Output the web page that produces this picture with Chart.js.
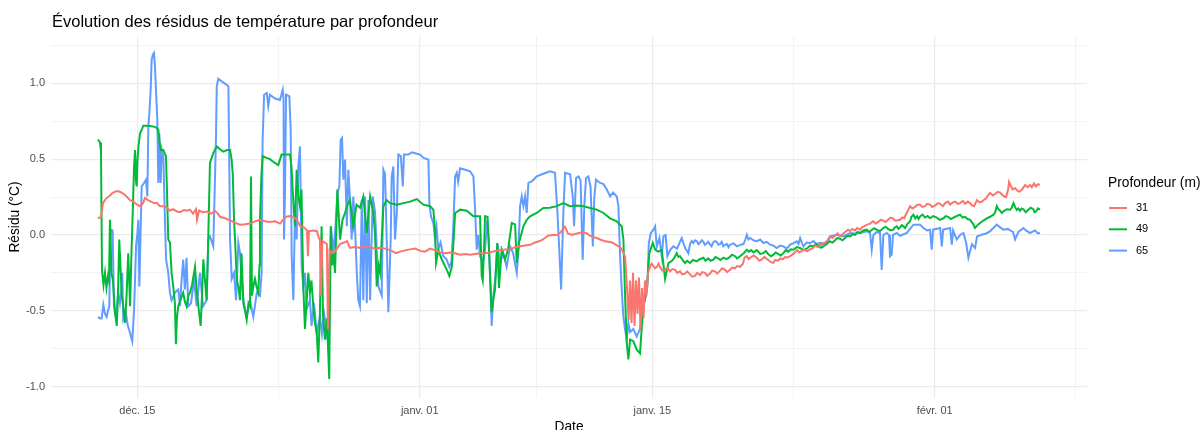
<!DOCTYPE html>
<html lang="fr">
<head>
<meta charset="utf-8">
<title>Résidus de température</title>
<script src="https://cdn.jsdelivr.net/npm/chart.js@4.4.1/dist/chart.umd.min.js"></script>
<style>
  html, body { margin: 0; padding: 0; background: #fff; }
  #wrap { width: 1200px; height: 430px; }
</style>
</head>
<body>
<div id="wrap"><canvas id="residusChart" width="1200" height="430"></canvas></div>
<script>
// jours depuis le 1er janvier 00:00, résidu en °C
const serie31 = [[-19.37,0.11],[-19.19,0.12],[-19.07,0.21],[-18.89,0.24],[-18.65,0.26],[-18.47,0.28],[-18.23,0.29],[-18.05,0.285],[-17.81,0.27],[-17.62,0.25],[-17.44,0.23],[-17.26,0.22],[-17.02,0.20],[-16.84,0.19],[-16.66,0.21],[-16.54,0.245],[-16.36,0.23],[-16.18,0.22],[-16.00,0.21],[-15.82,0.21],[-15.64,0.19],[-15.46,0.19],[-15.22,0.18],[-15.04,0.16],[-14.86,0.17],[-14.62,0.155],[-14.43,0.15],[-14.19,0.165],[-14.01,0.16],[-13.83,0.167],[-13.65,0.14],[-13.47,0.17],[-13.41,0.10],[-13.29,0.16],[-13.05,0.15],[-12.81,0.155],[-12.57,0.14],[-12.33,0.16],[-12.15,0.14],[-12.03,0.12],[-11.72,0.11],[-11.42,0.096],[-11.12,0.08],[-10.82,0.068],[-10.52,0.07],[-10.22,0.075],[-9.92,0.09],[-9.62,0.10],[-9.32,0.09],[-9.02,0.085],[-8.71,0.09],[-8.41,0.075],[-8.23,0.10],[-8.05,0.12],[-7.81,0.125],[-7.63,0.12],[-7.39,0.10],[-7.21,0.06],[-6.97,0.05],[-6.79,0.03],[-6.73,-0.14],[-6.67,0.025],[-6.43,0.03],[-6.19,0.025],[-6.07,-0.02],[-6.01,-0.03],[-5.95,-0.40],[-5.86,-0.04],[-5.71,-0.05],[-5.59,-0.06],[-5.53,-0.62],[-5.43,-0.10],[-5.28,-0.12],[-5.04,-0.10],[-4.80,-0.06],[-4.56,-0.05],[-4.38,-0.04],[-4.20,-0.085],[-3.90,-0.08],[-3.60,-0.085],[-3.30,-0.075],[-2.99,-0.08],[-2.69,-0.09],[-2.39,-0.085],[-2.09,-0.09],[-1.79,-0.10],[-1.43,-0.12],[-1.19,-0.11],[-0.83,-0.10],[-0.59,-0.095],[-0.28,-0.09],[0.02,-0.105],[0.32,-0.11],[0.62,-0.09],[0.92,-0.10],[1.22,-0.115],[1.52,-0.12],[1.82,-0.115],[2.13,-0.12],[2.43,-0.13],[2.73,-0.125],[3.03,-0.13],[3.33,-0.125],[3.63,-0.12],[3.93,-0.12],[4.23,-0.115],[4.53,-0.105],[4.83,-0.10],[5.13,-0.095],[5.44,-0.095],[5.74,-0.08],[6.04,-0.075],[6.34,-0.07],[6.64,-0.065],[6.94,-0.05],[7.24,-0.04],[7.54,-0.02],[7.72,-0.005],[7.96,0.0],[8.26,0.0],[8.50,0.02],[8.74,0.055],[8.92,0.01],[9.16,0.0],[9.46,0.01],[9.82,0.02],[10.06,0.01],[10.24,-0.005],[10.48,-0.015],[10.66,-0.02],[10.86,-0.03],[11.10,-0.04],[11.34,-0.045],[11.58,-0.05],[11.82,-0.065],[12.06,-0.08],[12.18,-0.10],[12.36,-0.14],[12.48,-0.35],[12.57,-0.56],[12.66,-0.30],[12.75,-0.58],[12.84,-0.25],[12.93,-0.60],[13.02,-0.30],[13.11,-0.52],[13.20,-0.28],[13.29,-0.62],[13.38,-0.35],[13.47,-0.55],[13.56,-0.30],[13.65,-0.40],[13.74,-0.25],[13.86,-0.21],[13.95,-0.19],[14.04,-0.20],[14.16,-0.22],[14.28,-0.21],[14.37,-0.19],[14.46,-0.21],[14.6,-0.235],[14.76,-0.23],[14.9,-0.215],[15.07,-0.24],[15.2,-0.225],[15.37,-0.23],[15.5,-0.25],[15.67,-0.24],[15.8,-0.26],[15.97,-0.255],[16.1,-0.24],[16.27,-0.26],[16.4,-0.275],[16.57,-0.27],[16.7,-0.25],[16.88,-0.265],[17.0,-0.245],[17.18,-0.25],[17.3,-0.27],[17.48,-0.255],[17.6,-0.235],[17.78,-0.24],[17.9,-0.255],[18.08,-0.235],[18.2,-0.22],[18.38,-0.23],[18.5,-0.245],[18.68,-0.23],[18.8,-0.215],[18.98,-0.22],[19.1,-0.205],[19.28,-0.21],[19.46,-0.19],[19.55,-0.15],[19.69,-0.14],[19.8,-0.16],[19.89,-0.15],[20.1,-0.135],[20.29,-0.15],[20.45,-0.17],[20.61,-0.16],[20.75,-0.145],[20.91,-0.16],[21.1,-0.175],[21.27,-0.185],[21.4,-0.165],[21.57,-0.17],[21.7,-0.155],[21.87,-0.16],[22.0,-0.145],[22.11,-0.15],[22.3,-0.14],[22.54,-0.12],[22.72,-0.10],[22.85,-0.115],[23.02,-0.105],[23.15,-0.095],[23.32,-0.108],[23.5,-0.095],[23.68,-0.086],[23.8,-0.07],[23.98,-0.08],[24.1,-0.065],[24.28,-0.064],[24.4,-0.05],[24.52,-0.04],[24.7,-0.01],[24.85,-0.02],[25.0,-0.005],[25.15,0.01],[25.31,-0.01],[25.45,0.005],[25.61,0.02],[25.79,0.035],[25.9,0.025],[26.03,0.04],[26.2,0.03],[26.33,0.046],[26.5,0.035],[26.63,0.05],[26.8,0.06],[26.93,0.068],[27.11,0.075],[27.29,0.09],[27.45,0.075],[27.59,0.085],[27.75,0.1],[27.89,0.096],[28.05,0.085],[28.19,0.10],[28.35,0.115],[28.49,0.11],[28.6,0.095],[28.73,0.095],[28.92,0.10],[29.05,0.115],[29.16,0.11],[29.34,0.15],[29.52,0.19],[29.65,0.175],[29.82,0.185],[29.95,0.2],[30.12,0.20],[30.25,0.185],[30.42,0.19],[30.55,0.205],[30.72,0.20],[30.85,0.185],[31.03,0.195],[31.2,0.21],[31.33,0.205],[31.5,0.19],[31.63,0.21],[31.8,0.22],[31.93,0.20],[32.1,0.215],[32.23,0.22],[32.4,0.205],[32.53,0.21],[32.7,0.225],[32.83,0.205],[33.0,0.22],[33.13,0.21],[33.25,0.195],[33.37,0.19],[33.55,0.23],[33.7,0.215],[33.85,0.22],[34.0,0.235],[34.09,0.24],[34.2,0.26],[34.33,0.277],[34.5,0.26],[34.63,0.27],[34.8,0.285],[34.94,0.28],[35.05,0.265],[35.18,0.255],[35.30,0.25],[35.42,0.3],[35.48,0.35],[35.60,0.32],[35.7,0.3],[35.84,0.31],[35.95,0.295],[36.08,0.285],[36.26,0.30],[36.44,0.33],[36.6,0.315],[36.74,0.33],[36.85,0.315],[36.98,0.34],[37.10,0.32],[37.22,0.335],[37.34,0.33]];

const serie49 = [[-19.37,0.63],[-19.25,0.61],[-19.19,0.55],[-19.13,-0.23],[-19.04,-0.33],[-18.95,-0.25],[-18.86,-0.35],[-18.77,-0.27],[-18.71,-0.30],[-18.65,0.10],[-18.56,-0.25],[-18.47,-0.30],[-18.35,-0.51],[-18.24,-0.60],[-18.17,-0.40],[-18.09,-0.03],[-18.02,-0.20],[-17.94,-0.40],[-17.87,-0.45],[-17.74,-0.58],[-17.65,-0.40],[-17.55,-0.12],[-17.49,-0.30],[-17.44,-0.47],[-17.35,-0.10],[-17.28,0.145],[-17.20,0.45],[-17.14,0.56],[-17.08,0.35],[-17.04,0.32],[-16.99,0.50],[-16.94,0.58],[-16.84,0.67],[-16.72,0.70],[-16.64,0.72],[-16.36,0.72],[-16.06,0.716],[-15.88,0.71],[-15.74,0.694],[-15.67,0.62],[-15.60,0.56],[-15.44,0.56],[-15.28,0.52],[-15.22,0.30],[-15.14,-0.03],[-15.04,-0.05],[-14.94,-0.25],[-14.83,-0.35],[-14.74,-0.45],[-14.68,-0.72],[-14.62,-0.55],[-14.54,-0.47],[-14.38,-0.42],[-14.24,-0.38],[-14.14,-0.44],[-14.04,-0.47],[-13.93,-0.40],[-13.83,-0.38],[-13.71,-0.33],[-13.53,-0.21],[-13.44,-0.35],[-13.33,-0.47],[-13.19,-0.60],[-13.11,-0.40],[-13.03,-0.16],[-12.93,-0.30],[-12.83,-0.43],[-12.75,-0.10],[-12.63,0.475],[-12.43,0.54],[-12.22,0.584],[-12.03,0.565],[-11.83,0.55],[-11.60,0.56],[-11.42,0.56],[-11.33,0.50],[-11.26,0.41],[-11.18,0.10],[-11.12,-0.03],[-11.02,-0.29],[-10.91,-0.35],[-10.82,-0.43],[-10.73,-0.12],[-10.62,-0.45],[-10.52,-0.50],[-10.42,-0.56],[-10.31,-0.45],[-10.22,-0.47],[-10.16,0.386],[-10.10,-0.40],[-10.02,-0.34],[-9.92,-0.29],[-9.83,-0.34],[-9.72,-0.38],[-9.65,-0.20],[-9.62,0.10],[-9.53,0.40],[-9.46,0.52],[-9.26,0.51],[-9.02,0.50],[-8.78,0.48],[-8.52,0.46],[-8.32,0.53],[-8.05,0.53],[-7.81,0.53],[-7.72,0.45],[-7.65,0.30],[-7.57,0.15],[-7.51,0.057],[-7.41,0.43],[-7.30,0.25],[-7.21,0.19],[-7.12,0.30],[-7.01,-0.34],[-6.91,-0.62],[-6.82,-0.45],[-6.71,-0.25],[-6.61,-0.38],[-6.52,-0.30],[-6.41,-0.47],[-6.31,-0.58],[-6.20,-0.65],[-6.11,-0.84],[-6.01,-0.51],[-5.91,0.057],[-5.83,-0.51],[-5.71,-0.69],[-5.59,-0.55],[-5.50,-0.80],[-5.45,-0.95],[-5.36,0.057],[-5.28,-0.20],[-5.20,-0.12],[-5.10,-0.25],[-4.96,0.30],[-4.80,-0.03],[-4.65,0.10],[-4.50,0.145],[-4.35,0.20],[-4.20,0.23],[-4.00,0.057],[-3.81,0.20],[-3.60,0.18],[-3.40,0.254],[-3.19,0.013],[-2.99,0.254],[-2.79,0.145],[-2.69,0.0],[-2.59,-0.34],[-2.48,-0.20],[-2.39,-0.25],[-2.19,0.19],[-1.99,0.23],[-1.79,0.21],[-1.38,0.20],[-0.99,0.21],[-0.58,0.22],[-0.18,0.237],[0.22,0.20],[0.62,0.19],[0.82,0.167],[0.92,0.035],[0.98,-0.185],[1.12,-0.10],[1.32,-0.16],[1.63,-0.23],[1.78,-0.27],[1.93,-0.21],[2.03,-0.05],[2.13,0.145],[2.43,0.167],[2.83,0.16],[3.23,0.123],[3.63,0.123],[3.73,-0.27],[3.79,-0.30],[3.87,-0.10],[3.93,0.123],[4.08,0.12],[4.23,-0.25],[4.33,-0.51],[4.44,-0.42],[4.53,-0.36],[4.67,-0.053],[4.77,-0.35],[4.93,-0.097],[5.13,-0.16],[5.31,-0.10],[5.54,0.079],[5.74,0.07],[5.84,-0.185],[5.98,-0.05],[6.24,0.057],[6.44,0.10],[6.64,0.123],[7.04,0.145],[7.44,0.178],[7.84,0.18],[8.25,0.19],[8.65,0.21],[9.05,0.19],[9.45,0.195],[9.85,0.19],[10.25,0.178],[10.66,0.167],[11.06,0.145],[11.46,0.11],[11.86,0.09],[12.16,0.057],[12.26,-0.03],[12.36,-0.40],[12.46,-0.71],[12.56,-0.82],[12.66,-0.69],[12.86,-0.70],[13.06,-0.756],[13.26,-0.78],[13.37,-0.60],[13.50,-0.45],[13.67,-0.36],[13.82,-0.12],[14.03,-0.053],[14.17,-0.097],[14.35,-0.11],[14.57,-0.10],[14.77,-0.29],[14.97,-0.185],[15.19,-0.17],[15.33,-0.15],[15.47,-0.12],[15.57,-0.145],[15.67,-0.14],[15.82,-0.165],[15.97,-0.185],[16.1,-0.17],[16.27,-0.185],[16.45,-0.165],[16.68,-0.174],[16.85,-0.16],[17.08,-0.15],[17.2,-0.17],[17.36,-0.155],[17.5,-0.17],[17.68,-0.163],[17.8,-0.145],[17.96,-0.155],[18.1,-0.165],[18.28,-0.15],[18.45,-0.16],[18.62,-0.15],[18.8,-0.13],[18.98,-0.14],[19.1,-0.155],[19.28,-0.14],[19.5,-0.12],[19.69,-0.097],[19.82,-0.11],[19.95,-0.10],[20.1,-0.115],[20.29,-0.10],[20.5,-0.125],[20.69,-0.12],[20.83,-0.105],[20.97,-0.125],[21.15,-0.14],[21.29,-0.13],[21.43,-0.115],[21.57,-0.125],[21.73,-0.135],[21.89,-0.12],[22.03,-0.1],[22.17,-0.11],[22.33,-0.095],[22.49,-0.097],[22.7,-0.08],[22.90,-0.086],[23.1,-0.1],[23.30,-0.09],[23.5,-0.07],[23.70,-0.075],[23.85,-0.06],[23.98,-0.07],[24.15,-0.085],[24.30,-0.075],[24.5,-0.055],[24.70,-0.042],[24.85,-0.05],[25.00,-0.035],[25.15,-0.02],[25.31,-0.026],[25.45,-0.035],[25.61,-0.02],[25.75,-0.005],[25.91,-0.009],[26.05,0.005],[26.21,0.0],[26.35,0.02],[26.51,0.013],[26.7,0.03],[26.91,0.035],[27.05,0.02],[27.17,0.03],[27.35,0.045],[27.51,0.035],[27.7,0.025],[27.91,0.046],[28.05,0.055],[28.19,0.04],[28.35,0.03],[28.51,0.035],[28.6,0.05],[28.72,0.057],[28.82,0.04],[28.92,0.05],[29.02,0.065],[29.12,0.057],[29.22,0.045],[29.34,0.07],[29.52,0.09],[29.6,0.12],[29.72,0.134],[29.83,0.11],[29.94,0.125],[30.03,0.105],[30.12,0.123],[30.27,0.135],[30.42,0.115],[30.57,0.125],[30.72,0.11],[30.9,0.125],[31.13,0.115],[31.3,0.1],[31.53,0.11],[31.67,0.125],[31.81,0.12],[31.97,0.105],[32.13,0.115],[32.33,0.125],[32.53,0.134],[32.68,0.115],[32.83,0.12],[32.98,0.105],[33.13,0.10],[33.3,0.075],[33.43,0.046],[33.58,0.065],[33.73,0.079],[33.93,0.095],[34.14,0.11],[34.34,0.12],[34.54,0.134],[34.64,0.15],[34.74,0.19],[34.84,0.17],[34.94,0.16],[35.04,0.145],[35.14,0.156],[35.34,0.17],[35.54,0.167],[35.64,0.18],[35.74,0.21],[35.84,0.185],[35.94,0.165],[36.04,0.175],[36.14,0.16],[36.24,0.175],[36.34,0.17],[36.48,0.15],[36.62,0.165],[36.78,0.18],[36.94,0.17],[37.02,0.15],[37.10,0.155],[37.22,0.175],[37.34,0.167]];

const serie65 = [[-19.37,-0.54],[-19.25,-0.55],[-19.15,-0.55],[-19.05,-0.46],[-18.95,-0.52],[-18.85,-0.54],[-18.77,-0.50],[-18.69,-0.47],[-18.61,0.035],[-18.49,0.03],[-18.41,-0.47],[-18.29,-0.54],[-18.15,-0.38],[-18.05,-0.45],[-17.99,-0.40],[-17.91,-0.25],[-17.85,-0.56],[-17.69,-0.52],[-17.57,-0.60],[-17.44,-0.646],[-17.31,-0.70],[-17.20,-0.50],[-17.08,-0.075],[-17.00,0.013],[-16.94,0.10],[-16.88,-0.34],[-16.81,0.0],[-16.74,0.32],[-16.60,0.343],[-16.48,0.365],[-16.40,0.254],[-16.34,0.716],[-16.28,0.80],[-16.20,0.958],[-16.14,1.156],[-16.06,1.19],[-16.00,1.20],[-15.94,1.11],[-15.88,0.958],[-15.80,0.76],[-15.74,0.343],[-15.68,0.67],[-15.60,0.343],[-15.53,0.56],[-15.44,0.52],[-15.33,0.057],[-15.27,-0.163],[-15.14,-0.25],[-15.04,-0.38],[-14.94,-0.43],[-14.74,-0.38],[-14.54,-0.36],[-14.43,-0.47],[-14.34,-0.30],[-14.24,-0.163],[-14.14,-0.36],[-14.04,-0.15],[-13.94,-0.47],[-13.77,-0.45],[-13.59,-0.29],[-13.43,-0.47],[-13.32,-0.35],[-13.23,-0.25],[-13.05,-0.47],[-12.83,-0.43],[-12.73,-0.03],[-12.63,-0.009],[-12.43,-0.075],[-12.33,0.365],[-12.27,0.628],[-12.22,0.98],[-12.13,1.03],[-11.92,1.013],[-11.62,0.99],[-11.52,0.98],[-11.46,0.41],[-11.42,-0.03],[-11.32,-0.29],[-11.18,-0.25],[-11.06,-0.43],[-10.92,-0.053],[-10.82,-0.12],[-10.72,-0.29],[-10.62,-0.43],[-10.42,-0.54],[-10.22,-0.43],[-10.02,-0.54],[-9.81,-0.38],[-9.62,-0.40],[-9.52,-0.25],[-9.46,0.63],[-9.37,0.925],[-9.21,0.936],[-9.12,0.85],[-9.02,0.925],[-8.71,0.90],[-8.41,0.89],[-8.25,0.958],[-8.20,0.90],[-8.17,-0.03],[-8.11,0.30],[-8.05,0.925],[-7.85,0.914],[-7.77,0.694],[-7.71,-0.14],[-7.61,-0.43],[-7.51,0.145],[-7.41,-0.03],[-7.31,0.452],[-7.21,0.584],[-7.11,-0.21],[-7.01,-0.34],[-6.91,-0.25],[-6.81,-0.49],[-6.61,-0.43],[-6.51,-0.60],[-6.37,-0.45],[-6.20,-0.646],[-6.01,-0.54],[-5.89,-0.65],[-5.77,-0.51],[-5.65,-0.60],[-5.56,-0.69],[-5.44,-0.47],[-5.34,0.057],[-5.20,-0.12],[-5.07,0.057],[-4.96,0.277],[-4.84,0.32],[-4.76,0.628],[-4.68,0.64],[-4.60,0.365],[-4.50,0.497],[-4.39,0.057],[-4.30,0.43],[-4.20,0.23],[-4.10,-0.03],[-4.00,0.254],[-3.90,0.057],[-3.79,-0.25],[-3.70,-0.43],[-3.60,-0.47],[-3.49,0.23],[-3.40,-0.43],[-3.29,0.254],[-3.19,-0.45],[-3.09,0.23],[-2.99,-0.43],[-2.83,0.254],[-2.69,0.15],[-2.49,-0.34],[-2.29,-0.40],[-2.19,0.43],[-2.09,0.40],[-1.99,-0.03],[-1.89,-0.51],[-1.75,-0.03],[-1.69,0.386],[-1.59,0.452],[-1.49,-0.03],[-1.38,0.145],[-1.29,0.53],[-1.14,0.52],[-1.02,0.32],[-0.95,0.53],[-0.69,0.53],[-0.46,0.545],[-0.18,0.536],[0.02,0.53],[0.22,0.508],[0.52,0.497],[0.58,0.21],[0.68,0.12],[0.82,0.079],[0.92,-0.03],[1.01,0.05],[1.12,-0.097],[1.25,-0.05],[1.42,-0.14],[1.61,-0.16],[1.78,-0.21],[1.91,-0.18],[2.02,0.057],[2.13,0.386],[2.23,0.41],[2.31,0.35],[2.43,0.44],[2.73,0.43],[3.03,0.42],[3.23,0.386],[3.33,0.167],[3.43,-0.097],[3.53,0.0],[3.63,-0.14],[3.79,-0.18],[3.93,-0.097],[4.07,0.10],[4.15,-0.03],[4.23,-0.27],[4.33,-0.60],[4.43,-0.40],[4.56,-0.27],[4.67,-0.053],[4.83,-0.185],[5.03,-0.12],[5.23,-0.21],[5.44,-0.075],[5.62,-0.12],[5.84,-0.25],[5.94,-0.10],[6.04,0.19],[6.14,0.254],[6.24,0.19],[6.34,0.254],[6.44,0.145],[6.54,0.343],[6.74,0.353],[7.04,0.386],[7.44,0.404],[7.84,0.42],[8.14,0.41],[8.28,0.167],[8.40,-0.097],[8.51,-0.36],[8.65,0.167],[8.75,0.41],[9.05,0.40],[9.21,0.254],[9.29,0.057],[9.41,0.376],[9.55,0.386],[9.68,0.36],[9.81,-0.163],[9.91,0.20],[10.01,0.376],[10.15,0.386],[10.28,0.32],[10.42,-0.075],[10.51,0.25],[10.61,0.365],[10.86,0.343],[11.06,0.335],[11.26,0.30],[11.46,0.254],[11.64,0.28],[11.86,0.254],[11.96,0.19],[12.03,-0.05],[12.10,-0.23],[12.18,-0.40],[12.26,-0.54],[12.36,-0.62],[12.46,-0.69],[12.56,-0.58],[12.66,-0.64],[12.86,-0.62],[13.06,-0.67],[13.26,-0.62],[13.37,-0.49],[13.56,-0.43],[13.70,-0.34],[13.79,-0.053],[13.91,0.013],[14.07,0.035],[14.17,0.057],[14.27,-0.075],[14.43,-0.02],[14.57,-0.14],[14.67,-0.009],[14.80,0.0],[14.91,-0.14],[15.07,-0.10],[15.27,-0.075],[15.49,-0.09],[15.77,-0.02],[15.97,-0.085],[16.17,-0.12],[16.27,-0.06],[16.37,-0.04],[16.47,-0.053],[16.57,-0.035],[16.68,-0.042],[16.78,-0.06],[16.88,-0.05],[16.98,-0.035],[17.08,-0.045],[17.16,-0.065],[17.24,-0.06],[17.36,-0.045],[17.48,-0.064],[17.57,-0.075],[17.66,-0.05],[17.77,-0.04],[17.88,-0.045],[17.98,-0.065],[18.08,-0.06],[18.18,-0.045],[18.28,-0.075],[18.39,-0.065],[18.50,-0.06],[18.59,-0.08],[18.68,-0.064],[18.88,-0.055],[19.09,-0.075],[19.29,-0.065],[19.49,-0.06],[19.6,-0.03],[19.69,0.002],[19.79,-0.03],[19.89,-0.02],[20.09,-0.035],[20.29,-0.042],[20.49,-0.03],[20.69,-0.053],[20.89,-0.045],[21.09,-0.064],[21.29,-0.07],[21.49,-0.086],[21.69,-0.07],[21.89,-0.075],[22.1,-0.09],[22.30,-0.064],[22.48,-0.055],[22.70,-0.042],[22.80,-0.06],[22.90,-0.02],[23.00,-0.05],[23.10,-0.075],[23.29,-0.05],[23.50,-0.053],[23.70,-0.04],[23.89,-0.06],[24.10,-0.053],[24.31,-0.055],[24.50,-0.064],[24.60,-0.04],[24.70,-0.009],[25.11,0.002],[25.51,-0.009],[25.91,0.013],[26.21,0.01],[26.51,0.013],[26.91,0.024],[27.11,0.015],[27.21,-0.097],[27.31,0.0],[27.51,0.02],[27.71,0.013],[27.81,-0.23],[27.91,0.0],[28.11,0.013],[28.25,0.0],[28.31,-0.14],[28.41,-0.13],[28.49,0.0],[28.72,0.013],[28.92,-0.005],[29.32,0.013],[29.52,0.04],[29.72,0.068],[30.12,0.068],[30.32,0.046],[30.54,0.03],[30.72,0.035],[30.82,-0.097],[30.90,0.035],[31.33,0.046],[31.43,-0.075],[31.51,0.035],[31.93,0.046],[32.03,-0.064],[32.11,0.03],[32.33,-0.03],[32.53,0.0],[32.73,0.013],[32.89,-0.05],[33.03,-0.15],[33.24,-0.06],[33.43,-0.086],[33.55,-0.01],[33.83,0.002],[34.09,0.01],[34.33,0.024],[34.74,0.068],[34.94,0.05],[35.14,0.035],[35.42,0.04],[35.54,0.03],[35.72,0.02],[35.84,-0.03],[36.04,0.02],[36.34,0.046],[36.50,0.03],[36.74,0.013],[37.04,0.03],[37.22,0.01],[37.34,0.013]];

const profondeurs = ['31', '49', '65'];
const couleurs = ['#F8766D', '#00BA38', '#619CFF'];

const ticksJours = [-17, 0, 14, 31];
const labelsJours = ['déc. 15', 'janv. 01', 'janv. 15', 'févr. 01'];
const ticksJoursMineurs = [-8.5, 7, 22.5, 39.45];
const ticksResidu = [-1.0, -0.5, 0.0, 0.5, 1.0];
const ticksResiduMineurs = [-0.75, -0.25, 0.25, 0.75, 1.25];

const titre = 'Évolution des résidus de température par profondeur';
const titreLegende = 'Profondeur (m)';

Chart.defaults.font.family = '"Liberation Sans", Arial, sans-serif';

function points(serie) {
  return serie.map(p => ({ x: p[0], y: p[1] }));
}

// titre et légende façon ggplot
const decor = {
  id: 'decor',
  afterDraw(chart) {
    const ctx = chart.ctx;
    ctx.save();
    ctx.fillStyle = '#000';
    ctx.textAlign = 'left';
    ctx.textBaseline = 'alphabetic';
    ctx.font = '16.5px "Liberation Sans", Arial, sans-serif';
    ctx.fillText(titre, 52, 26.5);

    ctx.textBaseline = 'middle';
    ctx.font = '13.75px "Liberation Sans", Arial, sans-serif';
    ctx.fillText(titreLegende, 1108, 183);
    ctx.font = '11px "Liberation Sans", Arial, sans-serif';
    chart.data.datasets.forEach((ds, i) => {
      const y = 208 + i * 21.3;
      ctx.strokeStyle = ds.borderColor;
      ctx.lineWidth = 2;
      ctx.beginPath();
      ctx.moveTo(1109, y);
      ctx.lineTo(1127, y);
      ctx.stroke();
      ctx.fillStyle = '#000';
      ctx.fillText(ds.label, 1136, y);
    });
    ctx.restore();
  }
};

const series = [serie31, serie49, serie65];

new Chart(document.getElementById('residusChart'), {
  type: 'line',
  data: {
    datasets: series.map((s, i) => ({
      label: profondeurs[i],
      data: points(s),
      borderColor: couleurs[i],
      backgroundColor: couleurs[i],
      borderWidth: 2,
      pointRadius: 0,
      tension: 0,
      fill: false
    }))
  },
  options: {
    responsive: false,
    devicePixelRatio: 1,
    animation: false,
    layout: { padding: { top: 36, right: 113, left: 0, bottom: 0 } },
    plugins: {
      legend: { display: false },
      tooltip: { enabled: false },
      title: { display: false }
    },
    scales: {
      x: {
        type: 'linear',
        min: -22.2,
        max: 40.17,
        afterFit: s => { s.height = 32; },
        afterBuildTicks: s => {
          s.ticks = ticksJours.concat(ticksJoursMineurs).sort((a, b) => a - b).map(v => ({ value: v }));
        },
        border: { display: false },
        grid: {
          drawTicks: false,
          color: c => ticksJours.includes(c.tick.value) ? '#ebebeb' : '#f3f3f3',
          lineWidth: c => ticksJours.includes(c.tick.value) ? 1.2 : 1
        },
        ticks: {
          autoSkip: false,
          maxRotation: 0,
          padding: 6,
          color: '#4d4d4d',
          font: { size: 11 },
          callback: v => {
            const i = ticksJours.indexOf(v);
            return i >= 0 ? labelsJours[i] : '';
          }
        },
        title: {
          display: true,
          text: 'Date',
          color: '#000',
          font: { size: 13.75 },
          padding: { top: 0, bottom: -5 }
        }
      },
      y: {
        min: -1.075,
        max: 1.312,
        afterFit: s => { s.width = 51; },
        afterBuildTicks: s => {
          s.ticks = ticksResidu.concat(ticksResiduMineurs).sort((a, b) => a - b).map(v => ({ value: v }));
        },
        border: { display: false },
        grid: {
          drawTicks: false,
          color: c => ticksResidu.includes(c.tick.value) ? '#ebebeb' : '#f3f3f3',
          lineWidth: c => ticksResidu.includes(c.tick.value) ? 1.2 : 1
        },
        ticks: {
          autoSkip: false,
          padding: 6,
          color: '#4d4d4d',
          font: { size: 11 },
          callback: v => ticksResidu.includes(v) ? v.toFixed(1) : ''
        },
        title: {
          display: true,
          text: 'Résidu (°C)',
          color: '#000',
          font: { size: 13.75 },
          padding: { top: 7, bottom: 0 }
        }
      }
    }
  },
  plugins: [decor]
});
</script>
</body>
</html>
